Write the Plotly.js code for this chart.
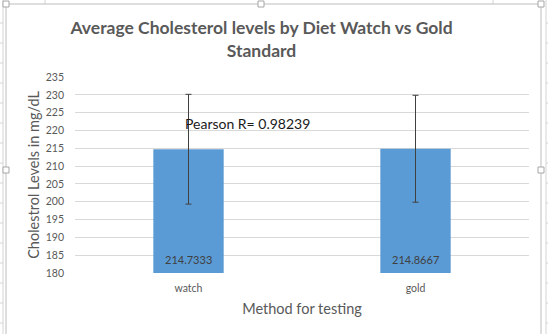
<!DOCTYPE html>
<html>
<head>
<meta charset="utf-8">
<script src="https://cdn.plot.ly/plotly-3.0.1.min.js"></script>
<style>html,body{margin:0;padding:0;background:#fff;}</style>
</head>
<body>
<div id="chart" style="width:548px;height:334px;"></div>
<script>
// Data
const categories = ["watch", "gold"];
const averages = [214.7333, 214.8667];
const errorSizes = [15.4, 15.0];
const dataLabels = ["214.7333", "214.8667"];
const yTickValues = [180, 185, 190, 195, 200, 205, 210, 215, 220, 225, 230, 235];
const yMin = 180, yMax = 235;
const pearsonText = "Pearson R= 0.98239";

// Layout geometry (pixels)
const W = 548, H = 334;
const M = {l: 75, r: 19, t: 77, b: 61};
const PW = W - M.l - M.r, PH = H - M.t - M.b;
const px2x = p => (p - M.l) / PW;
const py2y = p => (H - M.b - p) / PH;
const FONT = 'Lato, "Open Sans", sans-serif';

const shapes = [];
// sheet gridlines outside chart
[3, 546].forEach(x => shapes.push({type:'line', xref:'paper', yref:'paper', x0:px2x(x), x1:px2x(x), y0:py2y(0), y1:py2y(H), line:{color:'#d4d4d4', width:1}, layer:'below'}));
for (let y = 23; y < H; y += 20) {
  shapes.push({type:'line', xref:'paper', yref:'paper', x0:px2x(0), x1:px2x(3), y0:py2y(y), y1:py2y(y), line:{color:'#d4d4d4', width:1}, layer:'below'});
  shapes.push({type:'line', xref:'paper', yref:'paper', x0:px2x(546), x1:px2x(W), y0:py2y(y), y1:py2y(y), line:{color:'#d4d4d4', width:1}, layer:'below'});
}
[45, 493].forEach(x => shapes.push({type:'line', xref:'paper', yref:'paper', x0:px2x(x), x1:px2x(x), y0:py2y(0), y1:py2y(4), line:{color:'#d4d4d4', width:1}, layer:'below'}));
// chart border
shapes.push({type:'rect', xref:'paper', yref:'paper', x0:px2x(6), x1:px2x(541), y0:py2y(4), y1:py2y(H+10), line:{color:'#bdbdbd', width:1}, fillcolor:'rgba(0,0,0,0)', layer:'below'});
// selection handles
[[6,4],[261,4],[541,4],[6,170],[541,170]].forEach(([x,y]) => shapes.push({type:'rect', xref:'paper', yref:'paper', x0:px2x(x-3), x1:px2x(x+3), y0:py2y(y-3), y1:py2y(y+3), line:{color:'#a6a6a6', width:1}, fillcolor:'#ffffff', layer:'above'}));

const trace = {
  type: 'bar',
  x: categories,
  y: averages,
  width: 0.31,
  marker: {color: '#5B9BD5'},
  textposition: 'none',
  error_y: {type: 'data', array: errorSizes, visible: true, color: '#404040', thickness: 1, width: 3},
  hoverinfo: 'none'
};

const annotations = [{
  text: pearsonText, xref: 'paper', yref: 'y',
  x: px2x(183), y: 221.9, xanchor: 'left', yanchor: 'middle',
  showarrow: false,
  font: {family: FONT, size: 14, color: '#1a1a1a'}
}];
// data labels at the inside base of each bar
categories.forEach((c, i) => annotations.push({
  text: dataLabels[i], xref: 'x', yref: 'y', x: c, y: yMin,
  xanchor: 'center', yanchor: 'bottom', yshift: 5, showarrow: false,
  font: {family: FONT, size: 11, color: '#404040'}
}));

const layout = {
  width: W, height: H,
  margin: M,
  paper_bgcolor: '#ffffff',
  plot_bgcolor: 'rgba(0,0,0,0)',
  showlegend: false,
  font: {family: FONT, color: '#595959'},
  title: {
    text: 'Average Cholesterol levels by Diet Watch vs Gold<br>Standard',
    font: {family: FONT, size: 17.5, color: '#595959', weight: 'bold'},
    x: 261.5 / W, xanchor: 'center', xref: 'container',
    y: 1 - 34 / H, yanchor: 'top', yref: 'container'
  },
  xaxis: {
    type: 'category',
    range: [-0.5, 1.5],
    showgrid: false, zeroline: false, showline: false,
    ticks: '', ticklabelstandoff: 7,
    tickfont: {size: 10.5, color: '#595959'},
    title: {text: 'Method for testing', font: {size: 14.5, color: '#595959'}, standoff: 11},
    automargin: false
  },
  yaxis: {
    range: [yMin, yMax],
    tickvals: yTickValues,
    showgrid: true, gridcolor: '#d9d9d9', gridwidth: 1,
    zeroline: false, showline: false,
    ticks: '', ticklabelstandoff: 10,
    tickfont: {size: 10.5, color: '#595959'},
    title: {text: 'Cholestrol Levels in mg/dL', font: {size: 14.5, color: '#595959'}, standoff: 2},
    automargin: false
  },
  annotations: annotations,
  shapes: shapes
};

Plotly.newPlot('chart', [trace], layout, {staticPlot: true, displayModeBar: false});
</script>
</body>
</html>
